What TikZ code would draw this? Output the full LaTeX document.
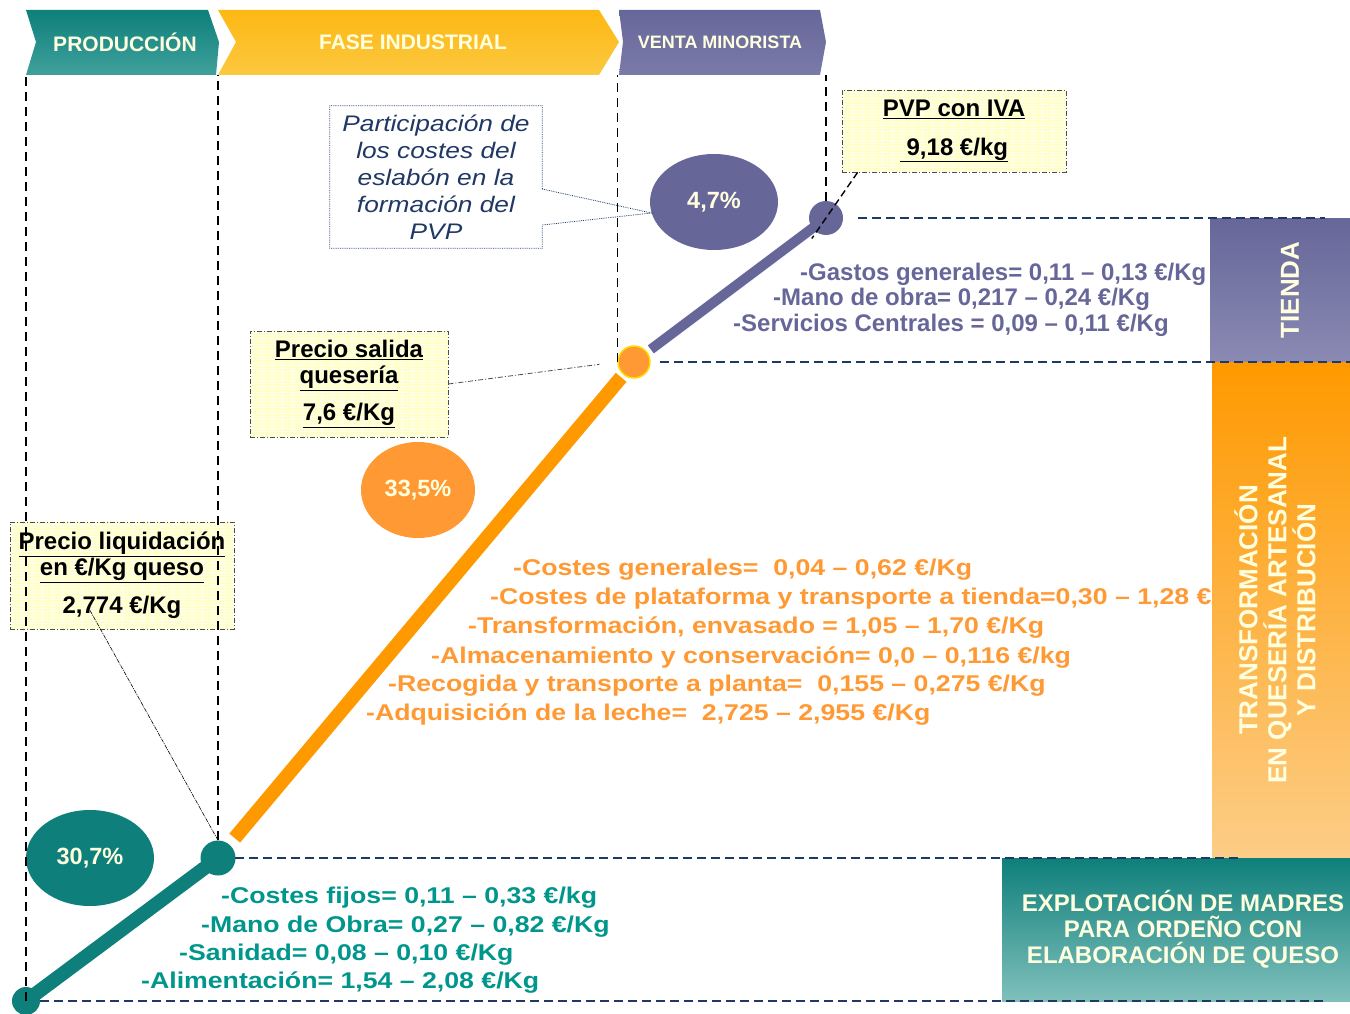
\documentclass[tikz,border=0pt]{standalone}
\usepackage{fontspec}
\setmainfont{Liberation Sans}
\newfontfamily\widesans[FakeStretch=1.17]{Liberation Sans}
\usetikzlibrary{shapes.geometric, patterns, calc}

\definecolor{farmteal}{HTML}{0E7F7A}
\definecolor{farmteallt}{HTML}{40A19C}
\definecolor{farmtealbox}{HTML}{80C0BC}
\definecolor{tealtext}{HTML}{00968C}
\definecolor{plantorange}{HTML}{FF9900}
\definecolor{orangecirc}{HTML}{FF9933}
\definecolor{orangelt}{HTML}{FCCD87}
\definecolor{plantyellow}{HTML}{FDB813}
\definecolor{plantyellowlt}{HTML}{FCC840}
\definecolor{shopviolet}{HTML}{666699}
\definecolor{shopvioletlt}{HTML}{8A8AB3}
\definecolor{shopvioletmid}{HTML}{7B7BAA}
\definecolor{cream}{HTML}{FFFFE0}
\definecolor{navy}{HTML}{1F3864}
\definecolor{boxyellow}{HTML}{FFFFCC}

\tikzset{
    headtext/.style={text=cream, font=\fontsize{21}{21}\selectfont\bfseries},
    sidetext/.style={text=cream, font=\fontsize{26}{29}\selectfont\bfseries, align=center},
    pricebox/.style={draw=black!70, line width=0.8pt, dash pattern=on 5pt off 2pt on 1pt off 2pt,
        preaction={fill=boxyellow}, pattern=horizontal lines, pattern color=white,
        align=center, inner sep=0pt, font=\fontsize{24}{26}\selectfont\bfseries},
    pct/.style={ellipse, inner sep=0pt, text=cream, font=\fontsize{23.5}{24}\selectfont\bfseries},
    knot/.style={circle, inner sep=0pt},
    vguide/.style={black, line width=1.4pt, dash pattern=on 9pt off 6pt},
    tierline/.style={navy, line width=1.5pt, dash pattern=on 9pt off 5pt},
    cost/.style={anchor=base west, inner sep=0pt, font=\widesans\fontsize{22.8}{24}\selectfont\bfseries},
    shopcost/.style={anchor=base west, inner sep=0pt, text=shopviolet, font=\fontsize{24}{26}\selectfont\bfseries}
}

\begin{document}
\begin{tikzpicture}[x=1pt, y=-1pt]
    \useasboundingbox (0,0) rectangle (1350,1014);
    \coordinate (m0) at (26,1001);
    \coordinate (m1) at (218,858);
    \coordinate (m2) at (634,362);
    \coordinate (m3) at (826,218);
    \coordinate (hb) at (0,75);

    \foreach \x/\y/\lbl [count=\i] in {800/280/{-Gastos generales= 0,11 – 0,13 €/Kg},
        773/305/{-Mano de obra= 0,217 – 0,24 €/Kg},
        733/331/{-Servicios Centrales = 0,09 – 0,11 €/Kg}}
    \node[shopcost] (shop\i) at (\x,\y) {\lbl};
    \foreach \x/\y/\lbl [count=\i] in {513/575/{-Costes generales=\ \ 0,04 – 0,62 €/Kg},
        490/604/{-Costes de plataforma y transporte a tienda=0,30 – 1,28 €/Kg},
        468/633/{-Transformación, envasado = 1,05 – 1,70 €/Kg},
        431/663/{-Almacenamiento y conservación= 0,0 – 0,116 €/kg},
        388/691/{-Recogida y transporte a planta=\ \ 0,155 – 0,275 €/Kg},
        366/720/{-Adquisición de la leche=\ \ 2,725 – 2,955 €/Kg}}
    \node[cost, text=orangecirc] (plant\i) at (\x,\y) {\lbl};
    \foreach \x/\y/\lbl [count=\i] in {221/903/{-Costes fijos= 0,11 – 0,33 €/kg},
        201/932/{-Mano de Obra= 0,27 – 0,82 €/Kg},
        179/960/{-Sanidad= 0,08 – 0,10 €/Kg},
        141/988/{-Alimentación= 1,54 – 2,08 €/Kg}}
    \node[cost, text=tealtext] (farm\i) at (\x,\y) {\lbl};

    \shade[top color=shopviolet, bottom color=shopvioletlt] (1210,218) rectangle (1350,362);
    \node[sidetext, rotate=90] (tienda) at (1290,290) {TIENDA};
    \shade[top color=plantorange, bottom color=orangelt] (1212,362) rectangle (1350,858);
    \node[sidetext, rotate=90] (transf) at (1275,610) {TRANSFORMACIÓN\\EN QUESERÍA ARTESANAL\\Y DISTRIBUCIÓN};
    \shade[top color=farmteal, bottom color=farmtealbox] (1002,858) rectangle (1350,1001);
    \node[sidetext, font=\fontsize{24}{26}\selectfont\bfseries] (explot) at (1183,929) {EXPLOTACIÓN DE MADRES\\PARA ORDEÑO CON\\ELABORACIÓN DE QUESO};

    \draw[tierline] ([xshift=32pt]m3) -- (1325,218);
    \draw[tierline] ([xshift=26pt]m2) -- (1350,362);
    \draw[tierline] ([xshift=17pt]m1) -- (1240,858);
    \draw[tierline] (m0) -- (1325,1001);

    \shade[top color=farmteal, bottom color=farmteallt] (26,10) -- (208,10) -- (219,42) -- (216,75) -- (26,75) -- (36,42) -- cycle;
    \shade[top color=plantyellow, bottom color=plantyellowlt] (218,10) -- (599,10) -- (619,42) -- (599,75) -- (218,75) -- (236,42) -- cycle;
    \shade[top color=shopviolet, bottom color=shopvioletmid] (619,10) -- (820,10) -- (826,42) -- (820,75) -- (619,75) -- (623,42) -- cycle;
    \node[headtext] (prod) at (125,42) {PRODUCCIÓN};
    \node[headtext] (fase) at (413,42) {FASE INDUSTRIAL};
    \node[headtext, font=\fontsize{18}{18}\selectfont\bfseries] (venta) at (720,42) {VENTA MINORISTA};

    \node[pricebox, minimum width=224pt, minimum height=82pt] (pvp) at (954,131)
        {\underline{PVP con IVA}\\[13pt]\underline{\ 9,18 €/kg}};
    \node[pricebox, minimum width=198pt, minimum height=106pt] (salida) at (349,384)
        {\underline{Precio salida}\\\underline{quesería}\\[11pt]\underline{7,6 €/Kg}};
    \node[pricebox, minimum width=224pt, minimum height=107pt] (liq) at (122,575.5)
        {\underline{Precio liquidación}\\\underline{en €/Kg queso}\\[12pt]2,774 €/Kg};

    \node[pct, fill=farmteal, minimum width=128pt, minimum height=96pt] (pct30) at (90,858) {30,7\%};
    \node[pct, fill=orangecirc, minimum width=114pt, minimum height=96pt] (pct33) at (418,490) {33,5\%};
    \node[pct, fill=shopviolet, minimum width=128pt, minimum height=96pt] (pct47) at (714,202) {4,7\%};

    \node[text=navy, align=center, inner sep=0pt, minimum width=212pt, minimum height=142pt,
        font=\widesans\fontsize{22.5}{27}\selectfont\itshape] (callout) at (436,177)
        {Participación de\\los costes del\\eslabón en la\\formación del\\PVP};
    \draw[navy, line width=0.8pt, densely dotted] ([yshift=-12pt]callout.east) -- (pct47.190)
        -- ([yshift=-48pt]callout.east) |- (callout.south west) |- (callout.north east) -- cycle;

    \draw[farmteal, line width=14pt] (m0) -- (m1);
    \draw[plantorange, line width=14pt, shorten <=26pt, shorten >=20pt] (m1) -- (m2);
    \draw[shopviolet, line width=10pt, shorten <=21pt] (m2) -- (m3);

    \node[knot, fill=farmteal, minimum size=28pt] (p0) at (m0) {};
    \node[knot, fill=farmteal, minimum size=35pt] (p1) at (m1) {};
    \node[knot, fill=orangecirc, draw=yellow!80!orange, line width=1.5pt, minimum size=32pt] (p2) at (m2) {};
    \node[knot, fill=shopviolet, minimum size=34pt] (p3) at (m3) {};

    \draw[vguide] (p0.center) -- (p0 |- hb);
    \draw[vguide] (p1.north) -- (p1 |- hb);
    \draw[vguide] (p2.west) -- (p2.west |- hb);
    \draw[vguide] (p3.north) -- (p3 |- hb);

    \draw[black, line width=0.6pt, dash pattern=on 4pt off 1pt on 1pt off 1pt] ([xshift=-32pt, yshift=19pt]liq.south) -- (p1.north);
    \draw[black!70, line width=0.8pt, dash pattern=on 5pt off 2pt on 1pt off 2pt, shorten >=18pt] (salida.east) -- (p2.west);
    \draw[black, line width=1.4pt, dash pattern=on 7pt off 4pt] ([xshift=16pt]pvp.south west) -- ($([xshift=16pt]pvp.south west)!1.45!(p3)$);
\end{tikzpicture}
\end{document}
